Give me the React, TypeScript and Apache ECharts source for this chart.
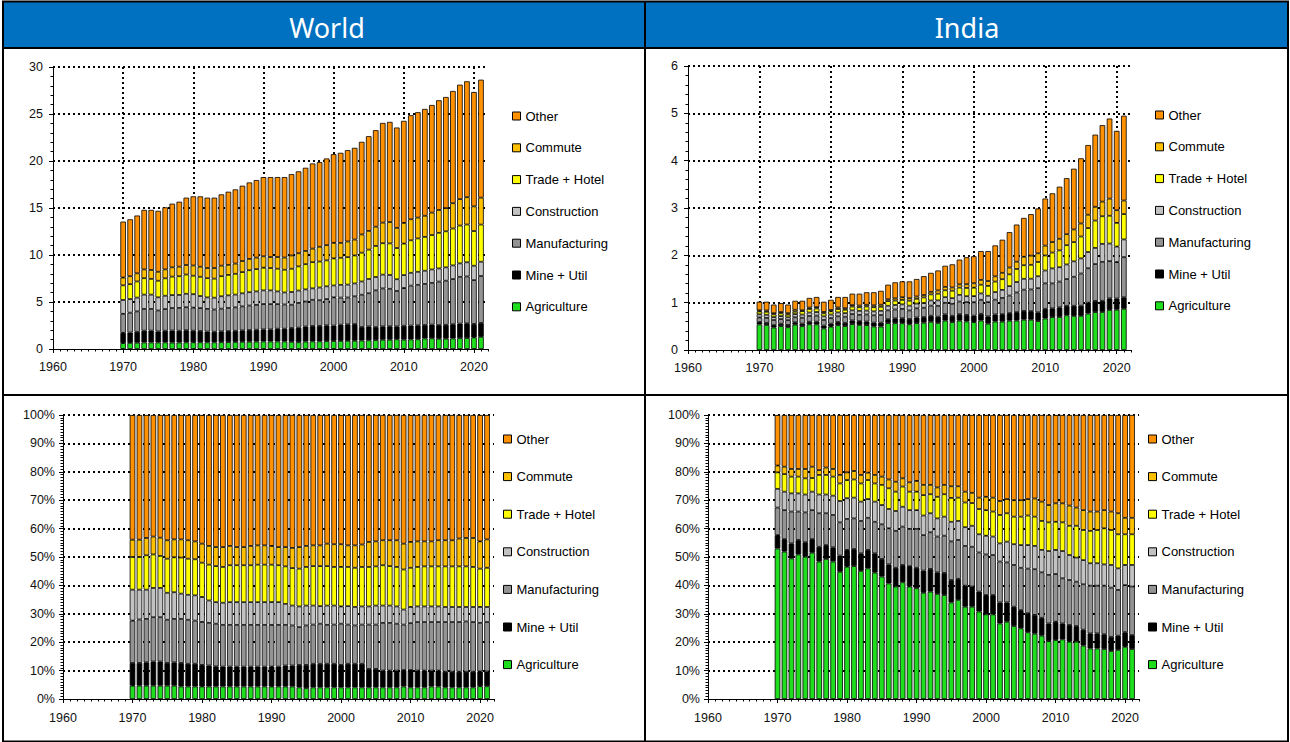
import React, { useEffect, useRef } from "react";
import * as echarts from "echarts";

// ---------- categories ----------
const years = [
  1970, 1971, 1972, 1973, 1974, 1975, 1976, 1977, 1978, 1979,
  1980, 1981, 1982, 1983, 1984, 1985, 1986, 1987, 1988, 1989,
  1990, 1991, 1992, 1993, 1994, 1995, 1996, 1997, 1998, 1999,
  2000, 2001, 2002, 2003, 2004, 2005, 2006, 2007, 2008, 2009,
  2010, 2011, 2012, 2013, 2014, 2015, 2016, 2017, 2018, 2019,
  2020, 2021,
];

const sectors = ["Agriculture", "Mine + Util", "Manufacturing", "Construction", "Trade + Hotel", "Commute", "Other"];
const sectorColors = ["#1EDE1E", "#000000", "#939393", "#C2C2C2", "#FFFF00", "#FFC000", "#FF9100"];
const legendOrder = ["Other", "Commute", "Trade + Hotel", "Construction", "Manufacturing", "Mine + Util", "Agriculture"];

// ---------- totals (top panels) ----------
const worldTotal = [
  13.55, 13.8, 14.2, 14.8, 14.8, 14.7, 15.07, 15.46, 15.67, 16.1,
  16.24, 16.24, 16.1, 16.1, 16.45, 16.73, 16.98, 17.37, 17.72, 17.97,
  18.29, 18.29, 18.29, 18.29, 18.6, 18.9, 19.28, 19.74, 19.88, 20.27,
  20.73, 20.87, 21.15, 21.4, 22.04, 22.64, 23.28, 24.05, 24.16, 23.56,
  24.27, 24.87, 25.19, 25.54, 25.96, 26.46, 26.81, 27.45, 28.12, 28.48,
  27.34, 28.65,
];
const indiaTotal = [
  1.02, 1.02, 0.96, 0.99, 0.96, 1.04, 1.04, 1.1, 1.12, 1.02,
  1.06, 1.12, 1.12, 1.19, 1.19, 1.22, 1.22, 1.25, 1.38, 1.43,
  1.45, 1.45, 1.5, 1.56, 1.63, 1.68, 1.78, 1.81, 1.91, 1.96,
  1.98, 2.09, 2.09, 2.21, 2.33, 2.49, 2.65, 2.79, 2.87, 2.99,
  3.2, 3.31, 3.45, 3.63, 3.83, 4.05, 4.33, 4.55, 4.75, 4.89,
  4.63, 4.95,
];

// ---------- cumulative shares (%) read at the top of each band (bottom panels) ----------
const worldUpToAgri = [
  4.7, 4.7, 4.7, 4.7, 4.7, 4.7, 4.7, 4.4, 4.4, 4.4,
  4.4, 4.4, 4.4, 4.4, 4.4, 4.4, 4.4, 4.4, 4.4, 4.4,
  4.4, 4.4, 4.4, 4.4, 4.1, 3.8, 4.1, 4.1, 4.1, 4.1,
  4.1, 4.1, 4.1, 4.1, 4.1, 4.1, 4.1, 4.1, 4.1, 4.4,
  4.1, 4.1, 4.1, 4.4, 4.4, 4.1, 4.1, 4.1, 4.1, 4.1,
  4.5, 4.5,
];
const worldUpToMine = [
  12.7, 12.7, 12.9, 13.2, 13.2, 12.7, 12.9, 12.7, 12.4, 12.4,
  12.0, 11.8, 11.5, 11.4, 11.4, 11.4, 11.4, 11.4, 11.4, 11.4,
  11.4, 11.4, 11.8, 11.8, 12.0, 12.0, 12.4, 12.4, 12.4, 12.4,
  12.0, 12.4, 12.4, 12.4, 10.6, 10.6, 10.0, 10.0, 10.0, 10.2,
  10.2, 10.0, 10.0, 10.0, 10.0, 9.6, 9.6, 9.6, 9.6, 9.6,
  9.7, 9.7,
];
const worldUpToManuf = [
  27.6, 28.0, 28.2, 28.8, 28.8, 27.9, 28.2, 28.2, 27.9, 27.6,
  27.1, 26.8, 26.5, 26.1, 26.1, 26.1, 26.1, 26.1, 26.1, 26.1,
  26.1, 26.1, 26.1, 25.9, 25.3, 25.9, 26.2, 26.5, 26.1, 26.2,
  26.5, 26.2, 25.9, 26.2, 26.2, 26.2, 26.8, 26.8, 26.5, 26.2,
  26.7, 27.1, 27.1, 27.1, 27.1, 27.1, 27.1, 27.1, 27.3, 27.1,
  26.8, 27.1,
];
const worldUpToConstr = [
  38.5, 38.5, 38.5, 39.1, 39.1, 37.4, 37.6, 37.1, 36.7, 36.5,
  35.9, 34.7, 34.1, 33.9, 34.1, 34.1, 34.1, 34.1, 34.1, 34.1,
  34.1, 34.1, 33.5, 32.9, 32.6, 32.9, 32.9, 32.7, 32.9, 32.9,
  32.6, 32.7, 32.4, 32.6, 32.6, 32.9, 32.9, 32.9, 32.6, 31.5,
  32.4, 32.6, 32.6, 32.6, 32.6, 32.4, 32.4, 32.4, 32.4, 32.4,
  32.4, 32.4,
];
const worldUpToTrade = [
  50.0, 50.0, 50.6, 50.9, 50.4, 49.4, 49.9, 49.8, 49.4, 49.2,
  48.0, 47.3, 46.8, 46.5, 47.1, 47.1, 47.1, 47.1, 47.3, 47.3,
  47.3, 47.1, 46.7, 46.1, 45.9, 46.5, 46.8, 46.8, 46.8, 46.5,
  46.5, 46.5, 46.2, 46.5, 46.5, 46.7, 47.1, 46.8, 46.5, 45.6,
  46.2, 46.5, 46.7, 46.7, 46.7, 46.7, 46.7, 46.7, 46.7, 46.5,
  45.9, 46.2,
];
const worldUpToCommute = [
  56.1, 56.1, 56.7, 57.2, 56.8, 55.9, 56.2, 56.2, 55.9, 55.5,
  54.7, 53.9, 53.5, 53.5, 53.9, 53.5, 53.5, 53.9, 54.1, 54.1,
  53.9, 53.5, 53.5, 53.2, 53.5, 53.9, 54.1, 54.1, 54.7, 54.5,
  54.5, 54.1, 54.1, 54.4, 55.3, 55.5, 55.9, 55.9, 55.9, 54.7,
  55.3, 55.5, 55.5, 55.5, 55.9, 55.9, 55.9, 56.5, 56.7, 56.7,
  55.5, 56.2,
];

const indiaUpToAgri = [
  53.0, 51.9, 49.5, 50.9, 50.1, 51.5, 48.4, 49.3, 48.4, 44.8,
  46.6, 46.8, 45.1, 46.0, 44.5, 43.1, 40.7, 39.6, 41.1, 39.6,
  39.0, 37.4, 37.8, 37.0, 36.6, 34.0, 34.9, 32.5, 32.5, 30.8,
  29.8, 29.8, 26.6, 27.2, 25.7, 24.9, 23.5, 23.0, 22.3, 20.4,
  20.8, 21.0, 20.2, 20.2, 18.8, 17.8, 17.8, 17.6, 16.9, 17.3,
  18.4, 17.6,
];
const indiaUpToMine = [
  57.7, 56.3, 54.8, 56.0, 55.2, 56.3, 53.6, 54.2, 53.4, 50.5,
  52.5, 52.8, 51.3, 52.5, 51.3, 49.3, 47.4, 46.2, 47.2, 46.8,
  46.2, 45.2, 45.8, 44.6, 44.4, 41.9, 42.3, 39.9, 39.6, 37.8,
  36.6, 36.6, 34.0, 34.0, 32.5, 31.3, 30.2, 29.6, 28.6, 26.6,
  27.2, 26.6, 26.1, 25.7, 24.4, 23.1, 23.1, 22.8, 21.9, 22.3,
  23.5, 22.5,
];
const indiaUpToManuf = [
  67.4, 66.5, 66.0, 66.0, 65.7, 66.5, 65.4, 65.4, 64.8, 62.2,
  63.4, 63.6, 62.7, 63.8, 62.4, 61.5, 60.1, 59.2, 60.7, 59.9,
  59.9, 57.7, 58.7, 57.2, 57.5, 55.5, 56.0, 53.9, 53.6, 51.6,
  50.9, 50.7, 48.4, 48.1, 47.2, 46.2, 45.9, 45.7, 44.6, 43.7,
  44.0, 42.5, 41.9, 41.3, 40.4, 39.9, 39.9, 39.9, 39.2, 38.4,
  40.1, 39.6,
];
const indiaUpToConstr = [
  74.0, 73.0, 72.4, 72.4, 72.0, 73.0, 72.0, 72.0, 71.6, 69.7,
  70.7, 70.9, 69.5, 70.4, 69.5, 68.3, 66.9, 66.2, 67.7, 66.5,
  66.5, 64.6, 65.4, 63.6, 64.2, 62.4, 62.7, 60.5, 61.0, 58.0,
  57.5, 57.2, 54.8, 55.4, 54.5, 54.2, 54.2, 53.9, 52.5, 52.1,
  52.5, 52.1, 50.7, 49.8, 48.9, 47.8, 47.8, 47.4, 47.2, 46.0,
  47.2, 47.2,
];
const indiaUpToTrade = [
  79.8, 79.2, 78.3, 78.3, 77.7, 77.8, 78.9, 78.9, 78.3, 75.9,
  77.1, 77.3, 75.9, 77.1, 75.9, 75.4, 74.2, 73.0, 74.8, 73.0,
  73.0, 71.8, 72.1, 71.2, 72.1, 70.8, 70.9, 69.2, 69.0, 66.9,
  66.5, 66.0, 64.8, 65.4, 64.2, 64.2, 64.6, 64.2, 62.7, 62.2,
  62.4, 62.2, 61.0, 61.0, 59.5, 59.2, 59.5, 60.1, 59.5, 58.0,
  58.0, 58.0,
];
const indiaUpToCommute = [
  82.2, 81.8, 81.0, 81.0, 81.0, 81.8, 80.6, 81.5, 81.0, 78.9,
  79.8, 80.3, 78.9, 79.7, 78.9, 78.3, 77.3, 76.5, 77.7, 76.3,
  76.8, 75.4, 75.4, 74.5, 75.4, 74.9, 74.9, 73.0, 72.6, 70.9,
  71.2, 70.9, 69.7, 70.4, 70.0, 70.0, 70.4, 70.6, 69.5, 68.3,
  68.9, 68.9, 68.1, 67.4, 66.5, 66.0, 66.0, 66.5, 66.0, 65.4,
  63.8, 63.8,
];

// band share of each sector from cumulative boundaries (Other = up to 100)
function bandShares(bounds: number[][]): number[][] {
  const full = [...bounds, years.map(() => 100)];
  return full.map((arr, k) => arr.map((v, i) => +(v - (k > 0 ? full[k - 1][i] : 0)).toFixed(2)));
}
const worldShares = bandShares([worldUpToAgri, worldUpToMine, worldUpToManuf, worldUpToConstr, worldUpToTrade, worldUpToCommute]);
const indiaShares = bandShares([indiaUpToAgri, indiaUpToMine, indiaUpToManuf, indiaUpToConstr, indiaUpToTrade, indiaUpToCommute]);
const toAbsolute = (shares: number[][], total: number[]) =>
  shares.map((arr) => arr.map((s, i) => +((s * total[i]) / 100).toFixed(4)));
const worldAbs = toAbsolute(worldShares, worldTotal);
const indiaAbs = toAbsolute(indiaShares, indiaTotal);

const FONT = "'Liberation Sans', Arial, sans-serif";
const dotted = { color: "#000", type: [2, 3] as number[], width: 2 };

type Panel = {
  left: number; top: number; width: number; height: number;
  yMax: number; yInterval: number; yMinorSplit: number; pct: boolean;
  labelMarginX: number; labelMarginY: number;
  legendLeft: number; legendTop: number; legendGap: number;
  values: number[][];
};

const panels: Panel[] = [
  { left: 53, top: 67, width: 435, height: 282, yMax: 30, yInterval: 5, yMinorSplit: 5, pct: false,
    labelMarginX: 11, labelMarginY: 10, legendLeft: 512, legendTop: 109, legendGap: 17.8, values: worldAbs },
  { left: 688, top: 66, width: 443, height: 284, yMax: 6, yInterval: 1, yMinorSplit: 5, pct: false,
    labelMarginX: 11, labelMarginY: 10, legendLeft: 1155, legendTop: 108, legendGap: 17.8, values: indiaAbs },
  { left: 63, top: 415, width: 431, height: 284, yMax: 100, yInterval: 10, yMinorSplit: 10, pct: true,
    labelMarginX: 12, labelMarginY: 8, legendLeft: 503, legendTop: 432, legendGap: 23.6, values: worldShares },
  { left: 708, top: 415, width: 431, height: 284, yMax: 100, yInterval: 10, yMinorSplit: 10, pct: true,
    labelMarginX: 12, labelMarginY: 8, legendLeft: 1148, legendTop: 432, legendGap: 23.6, values: indiaShares },
];

function buildOption() {
  const grid: any[] = [];
  const xAxis: any[] = [];
  const yAxis: any[] = [];
  const legend: any[] = [];
  const series: any[] = [];
  panels.forEach((p, g) => {
    grid.push({ left: p.left, top: p.top, width: p.width, height: p.height, containLabel: false });
    xAxis.push({
      type: "value", gridIndex: g, min: 1960, max: 2022, interval: 10, position: "bottom",
      axisLine: { show: true, onZero: false, lineStyle: { color: "#000", width: 1 } },
      axisTick: { show: true, length: 4, lineStyle: { color: "#000" } },
      axisLabel: { color: "#111", fontSize: 12.5, fontFamily: FONT, margin: p.labelMarginX, showMaxLabel: false,
        formatter: (v: number) => String(v) },
      splitLine: { show: true, showMinLine: false, showMaxLine: false, lineStyle: dotted },
    });
    xAxis.push({
      type: "value", gridIndex: g, min: 1960, max: 2022, interval: 1, position: "bottom",
      axisLine: { show: false, onZero: false }, axisLabel: { show: false }, splitLine: { show: false },
      axisTick: { show: true, length: 2.5, lineStyle: { color: "#000" } },
    });
    yAxis.push({
      type: "value", gridIndex: g, min: 0, max: p.yMax, interval: p.yInterval,
      axisLine: { show: true, onZero: false, lineStyle: { color: "#000", width: 1 } },
      axisTick: { show: true, length: 4, lineStyle: { color: "#000" } },
      minorTick: { show: true, splitNumber: p.yMinorSplit, length: 2.5, lineStyle: { color: "#000" } },
      axisLabel: { color: "#111", fontSize: 12.5, fontFamily: FONT, margin: p.labelMarginY,
        formatter: (v: number) => (p.pct ? `${v}%` : String(v)) },
      splitLine: { show: true, showMinLine: false, showMaxLine: true, lineStyle: dotted },
    });
    legend.push({
      orient: "vertical", left: p.legendLeft, top: p.legendTop, padding: 0, itemWidth: 8, itemHeight: 8,
      itemGap: p.legendGap, icon: "rect", data: legendOrder, selectedMode: false,
      itemStyle: { borderColor: "#000", borderWidth: 1 },
      textStyle: { fontSize: 13, color: "#000", fontFamily: FONT, lineHeight: 14 },
    });
    sectors.forEach((name, k) => {
      series.push({
        type: "bar", name, xAxisIndex: g * 2, yAxisIndex: g, stack: `stack${g}`,
        barWidth: 5.6,
        // value first so that the stacked dimension is the value (y) dimension
        encode: { x: 1, y: 0 },
        itemStyle: { color: sectorColors[k], borderColor: "#000", borderWidth: 0.8 },
        data: years.map((yr, i) => [p.values[k][i], yr]),
      });
    });
  });

  const headerFont = "27px 'Noto Sans', 'Open Sans', sans-serif";
  const graphic: any[] = [
    { type: "rect", shape: { x: 3, y: 2, width: 1285, height: 46 }, style: { fill: "#0070C0" }, z: 0 },
    { type: "text", x: 327, y: 27, style: { text: "World", fill: "#fff", font: headerFont,
      textAlign: "center", textVerticalAlign: "middle" }, z: 5 },
    { type: "text", x: 967, y: 27, style: { text: "India", fill: "#fff", font: headerFont,
      textAlign: "center", textVerticalAlign: "middle" }, z: 5 },
    { type: "rect", shape: { x: 3, y: 1.5, width: 1285, height: 740 }, style: { fill: "none", stroke: "#000", lineWidth: 2 }, z: 10 },
    { type: "line", shape: { x1: 3, y1: 48, x2: 1288, y2: 48 }, style: { stroke: "#000", lineWidth: 2 }, z: 10 },
    { type: "line", shape: { x1: 3, y1: 395, x2: 1288, y2: 395 }, style: { stroke: "#000", lineWidth: 2 }, z: 10 },
    { type: "line", shape: { x1: 645, y1: 1, x2: 645, y2: 742 }, style: { stroke: "#000", lineWidth: 2 }, z: 10 },
  ];

  return { animation: false, backgroundColor: "#fff", grid, xAxis, yAxis, legend, series, graphic };
}

export default function App() {
  const ref = useRef<HTMLDivElement>(null);
  useEffect(() => {
    document.body.style.margin = "0";
    if (!ref.current) return;
    const chart = echarts.init(ref.current, undefined, { renderer: "svg" });
    chart.setOption(buildOption() as any);
    return () => chart.dispose();
  }, []);
  return <div ref={ref} style={{ width: 1290, height: 742 }} />;
}
